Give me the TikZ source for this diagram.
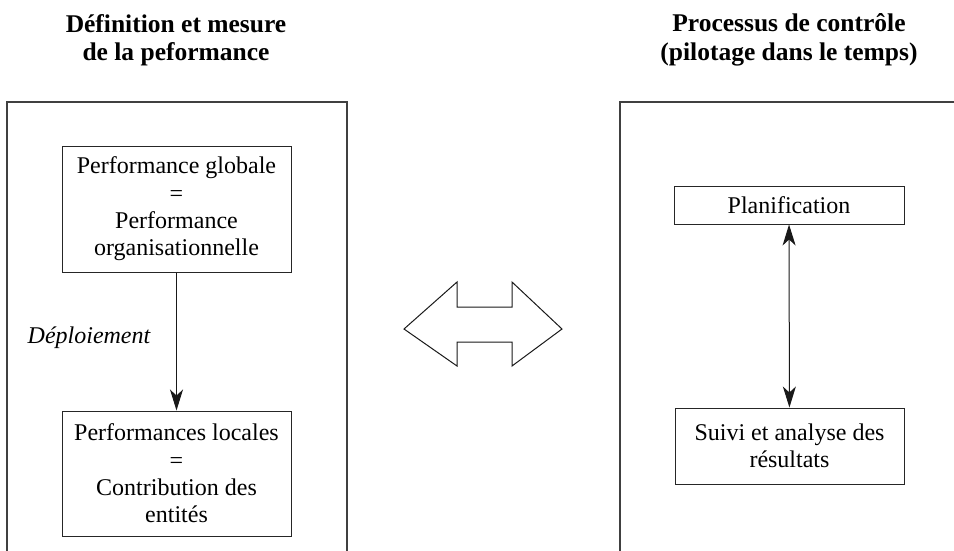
\documentclass[tikz,border=0pt]{standalone}
\usepackage{fontspec}
\setmainfont{Liberation Serif}
\newfontfamily\tnr{Liberation Serif}
\usetikzlibrary{arrows.meta}
\tikzset{
  box/.style={draw=black!85, line width=1pt, align=center, inner sep=0pt,
    font=\tnr\fontsize{24}{27.3}\selectfont},
  frame/.style={draw=black!75, line width=1.3pt},
  title/.style={align=center, font=\tnr\fontsize{25.5}{28.5}\selectfont\bfseries},
  conn/.style={draw=black!90, line width=1pt, -{Stealth[length=21pt,width=13pt,inset=6pt]}},
  dconn/.style={draw=black!90, line width=1pt, {Stealth[length=21pt,width=13pt,inset=6pt]}-{Stealth[length=21pt,width=13pt,inset=6pt]}},
}
\begin{document}
\begin{tikzpicture}[x=1pt,y=-1pt]
\useasboundingbox (0,0) rectangle (954,550);
% titles
\node[title] (t1) at (176,40) {Définition et mesure\\de la peformance};
\node[title] (t2) at (789,40) {Processus de contrôle\\(pilotage dans le temps)};
% outer frames (open at the bottom)
\draw[frame] (7,560) -- (7,102) -- (347,102) -- (347,560);
\draw[frame] (620,560) -- (620,102) -- (960,102);
% left column
\node[box, minimum width=229pt, minimum height=126pt] (pg) at (176.5,209)
  {Performance globale\\=\\Performance\\organisationnelle};
\node[box, minimum width=229pt, minimum height=125pt] (pl) at (176.5,473.5)
  {Performances locales\\=\\Contribution des\\entités};
\draw[conn] (pg) -- (pl);
\node[font=\tnr\fontsize{24}{26}\selectfont\itshape] (dep) at (89,338) {Déploiement};
% right column
\node[box, minimum width=230pt, minimum height=38pt] (plan) at (789,205) {Planification};
\node[box, minimum width=229pt, minimum height=76pt] (suivi) at (789.5,446)
  {Suivi et analyse des\\résultats};
\draw[dconn] (plan) -- (suivi);
% central double arrow
\draw[line width=1pt, draw=black!90, line join=miter] (404,329) -- (457,282) -- (457,307) -- (512,307) -- (512,282)
  -- (562,329) -- (512,366) -- (512,342) -- (457,342) -- (457,366) -- cycle;
\end{tikzpicture}
\end{document}
